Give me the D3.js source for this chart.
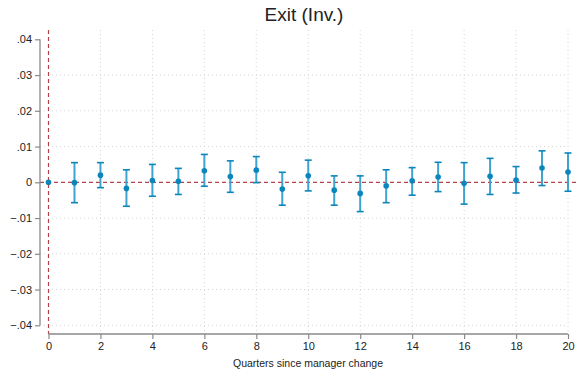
<!DOCTYPE html>
<html>
<head>
<meta charset="utf-8">
<script src="https://cdn.jsdelivr.net/npm/d3@7"></script>
<style>
  body { margin: 0; background: #fff; }
  text { font-family: "Liberation Sans", Arial, sans-serif; fill: #222; }
</style>
</head>
<body>
<div id="chart"></div>
<script>
// event-study estimates
var quarters = [0, 1, 2, 3, 4, 5, 6, 7, 8, 9, 10, 11, 12, 13, 14, 15, 16, 17, 18, 19, 20];
var coef = [0, -0.0001, 0.002, -0.0017, 0.0005, 0.0003, 0.0032, 0.0016, 0.0034, -0.0019, 0.0018,
  -0.0022, -0.0031, -0.001, 0.0004, 0.0015, -0.0003, 0.0017, 0.0006, 0.004, 0.0029];
var ciHigh = [null, 0.0055, 0.0055, 0.0035, 0.005, 0.0039, 0.0078, 0.006, 0.0072, 0.0028, 0.0062,
  0.0018, 0.0018, 0.0035, 0.0041, 0.0056, 0.0055, 0.0067, 0.0044, 0.0088, 0.0082];
var ciLow = [null, -0.0057, -0.0015, -0.0067, -0.0039, -0.0034, -0.0011, -0.0028, -0.0001, -0.0064, -0.0024,
  -0.0064, -0.0082, -0.0057, -0.0036, -0.0026, -0.0061, -0.0034, -0.003, -0.0009, -0.0025];
var yTicks = [0.04, 0.03, 0.02, 0.01, 0, -0.01, -0.02, -0.03, -0.04];
var xTicks = [0, 2, 4, 6, 8, 10, 12, 14, 16, 18, 20];

var W = 583, H = 374;
var blue = '#0b86bd';
var blueLight = '#3fa3cf';
var red = '#b5434a';
var grid = '#d4d4d4';
var axisCol = '#8a8a8a';

var plot = { left: 40, right: 568, top: 30, bottom: 334 };

var x = d3.scaleLinear().domain([0, 20]).range([48.5, 568]);
var y = d3.scaleLinear().domain([-0.04, 0.04]).range([325.3, 39.3]);

var svg = d3.select('#chart').append('svg')
  .attr('width', W)
  .attr('height', H);

// gridlines
svg.selectAll('line.hgrid')
    .data(yTicks.filter(function(d) { return d !== 0 && d !== 0.04; }))
  .enter().append('line')
    .attr('class', 'hgrid')
    .attr('x1', plot.left).attr('x2', plot.right)
    .attr('y1', function(d) { return y(d); })
    .attr('y2', function(d) { return y(d); })
    .attr('stroke', grid).attr('stroke-width', 1)
    .attr('stroke-dasharray', '1,3');

svg.selectAll('line.vgrid')
    .data(xTicks.filter(function(d) { return d !== 0; }))
  .enter().append('line')
    .attr('class', 'vgrid')
    .attr('x1', function(d) { return x(d); })
    .attr('x2', function(d) { return x(d); })
    .attr('y1', plot.top).attr('y2', plot.bottom)
    .attr('stroke', grid).attr('stroke-width', 1)
    .attr('stroke-dasharray', '1,3');

// reference lines
svg.append('line')
  .attr('x1', plot.left).attr('x2', plot.right + 8)
  .attr('y1', y(0)).attr('y2', y(0))
  .attr('stroke', red).attr('stroke-width', 1.2)
  .attr('stroke-dasharray', '4,3');

svg.append('line')
  .attr('x1', x(0)).attr('x2', x(0))
  .attr('y1', plot.top).attr('y2', plot.bottom)
  .attr('stroke', red).attr('stroke-width', 1.2)
  .attr('stroke-dasharray', '4,3');

// axes
var yAxis = d3.axisLeft(y)
  .tickValues(yTicks)
  .tickSize(5)
  .tickPadding(3)
  .tickFormat(function(d) {
    if (d === 0) return '0';
    return d3.format('.2f')(d).replace('0.', '.');
  });

var yg = svg.append('g')
  .attr('transform', 'translate(' + plot.left + ',0)')
  .call(yAxis);

var xAxis = d3.axisBottom(x)
  .tickValues(xTicks)
  .tickSize(5)
  .tickPadding(3)
  .tickFormat(d3.format('d'));

var xg = svg.append('g')
  .attr('transform', 'translate(0,' + plot.bottom + ')')
  .call(xAxis);

[yg, xg].forEach(function(g) {
  g.select('.domain').attr('stroke', axisCol).attr('stroke-width', 1.3);
  g.selectAll('.tick line').attr('stroke', axisCol).attr('stroke-width', 1.2);
  g.selectAll('.tick text')
    .attr('font-size', '11px')
    .attr('fill', '#222')
    .style('font-family', '"Liberation Sans", Arial, sans-serif');
});
// stata-like domain lines without end caps
yg.select('.domain').attr('d', 'M0,' + y(0.04) + 'V' + y(-0.04));
xg.select('.domain').attr('d', 'M' + x(0) + ',0H' + x(20));

// confidence intervals
var rows = quarters.map(function(q, i) {
  return { q: q, b: coef[i], lo: ciLow[i], hi: ciHigh[i] };
});
var withCI = rows.filter(function(d) { return d.lo !== null; });

svg.selectAll('line.ci')
    .data(withCI)
  .enter().append('line')
    .attr('class', 'ci')
    .attr('x1', function(d) { return x(d.q); })
    .attr('x2', function(d) { return x(d.q); })
    .attr('y1', function(d) { return y(d.hi); })
    .attr('y2', function(d) { return y(d.lo); })
    .attr('stroke', blueLight).attr('stroke-width', 2);

['hi', 'lo'].forEach(function(k) {
  svg.selectAll('line.cap-' + k)
      .data(withCI)
    .enter().append('line')
      .attr('class', 'cap-' + k)
      .attr('x1', function(d) { return x(d.q) - 3.5; })
      .attr('x2', function(d) { return x(d.q) + 3.5; })
      .attr('y1', function(d) { return y(d[k]); })
      .attr('y2', function(d) { return y(d[k]); })
      .attr('stroke', blue).attr('stroke-width', 1.6);
});

svg.selectAll('circle.pt')
    .data(rows)
  .enter().append('circle')
    .attr('class', 'pt')
    .attr('cx', function(d) { return x(d.q); })
    .attr('cy', function(d) { return y(d.b); })
    .attr('r', 2.8)
    .attr('fill', blue);

// titles
svg.append('text')
  .attr('x', 304)
  .attr('y', 21)
  .attr('text-anchor', 'middle')
  .attr('font-size', '19px')
  .attr('fill', '#111')
  .text('Exit (Inv.)');

svg.append('text')
  .attr('x', 308)
  .attr('y', 367)
  .attr('text-anchor', 'middle')
  .attr('font-size', '10.5px')
  .attr('fill', '#222')
  .text('Quarters since manager change');
</script>
</body>
</html>
